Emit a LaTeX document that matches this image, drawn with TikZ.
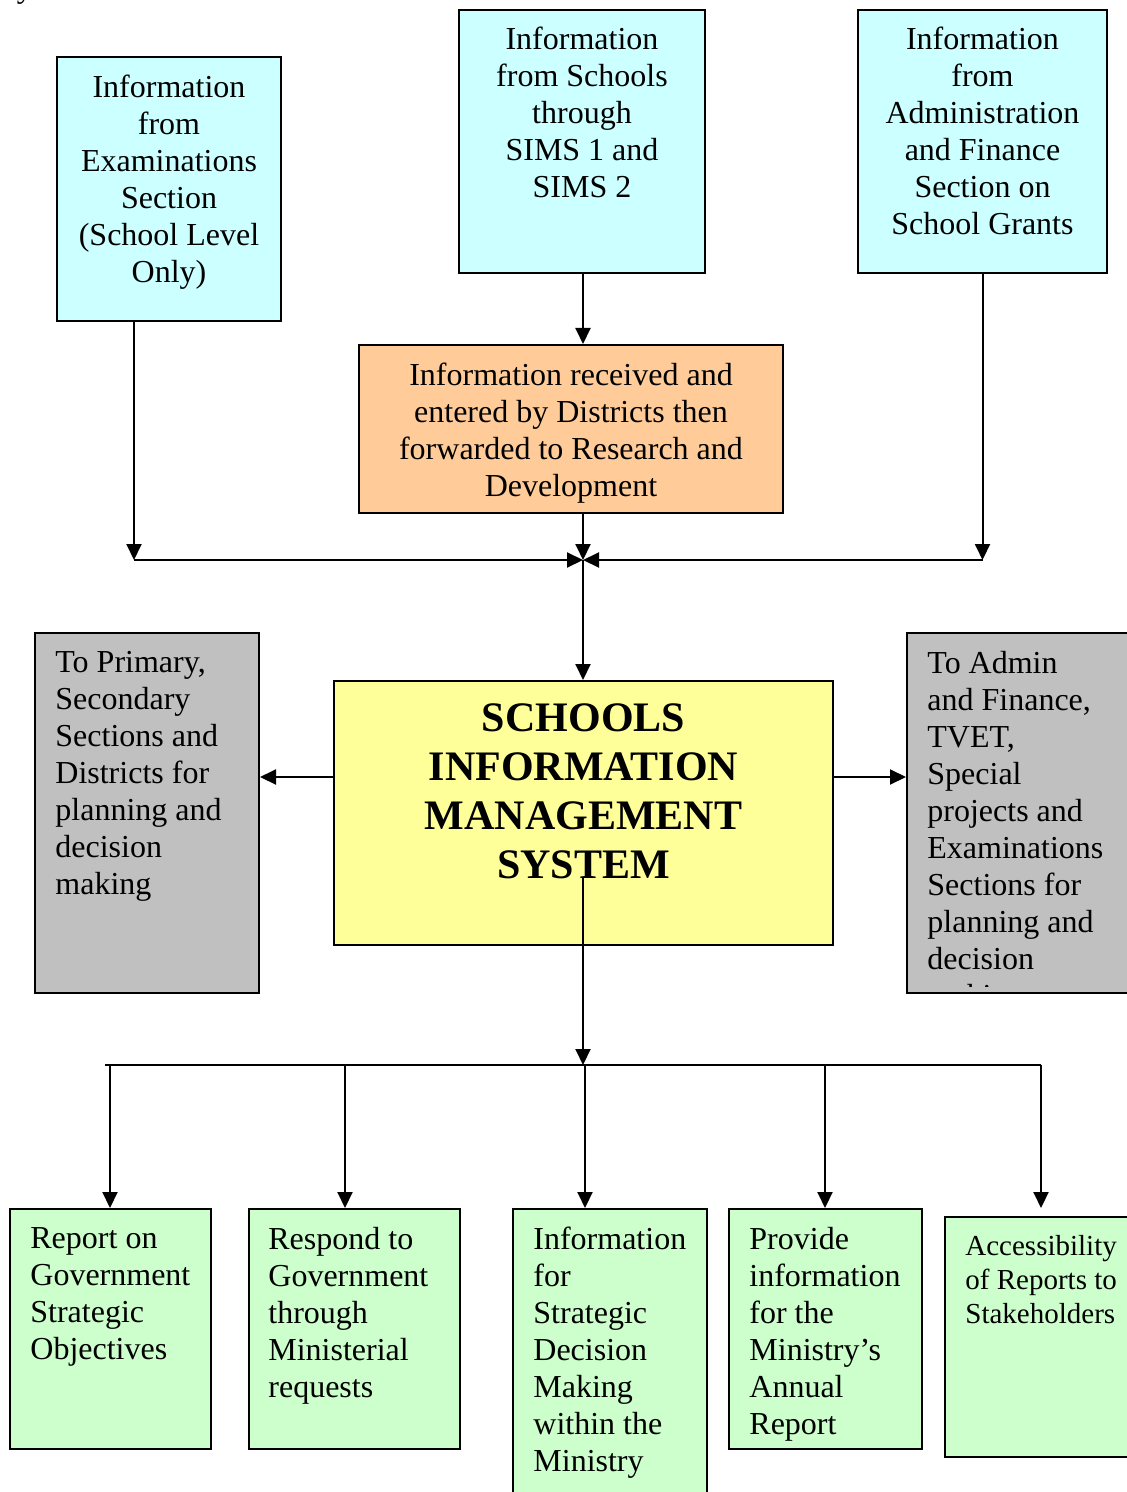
\documentclass[tikz,border=0pt]{standalone}
\usepackage{fontspec}
\setmainfont{Liberation Serif}
\usetikzlibrary{arrows.meta}
\definecolor{cyanfill}{HTML}{CCFFFF}
\definecolor{orangefill}{HTML}{FFCC99}
\definecolor{yellowfill}{HTML}{FFFF99}
\definecolor{grayfill}{HTML}{C0C0C0}
\definecolor{greenfill}{HTML}{CCFFCC}
\tikzset{
  box/.style={draw=black, line width=1pt, inner sep=0pt, rectangle},
  txt/.style={inner sep=0pt, font=\fontsize{16}{18.5}\selectfont},
  ctxt/.style={txt, align=center, anchor=north},
  ltxt/.style={txt, align=left, anchor=north west},
  conn/.style={line width=1pt},
  arr/.style={conn, -{Triangle[length=8pt,width=7.5pt]}}
}
\begin{document}
\begin{tikzpicture}[x=0.5pt,y=-0.5pt]
\useasboundingbox (0,0) rectangle (1127,1492);
% fragment of text cut off at the top
\node[txt, anchor=base west] (frag) at (4,-2) {system};
% top boxes
\node[box, fill=cyanfill, minimum width=112pt, minimum height=132pt] (exam) at (169,189) {};
\node[ctxt] (examt) at (169,75) {Information\\from\\Examinations\\Section\\(School Level\\Only)};
\node[box, fill=cyanfill, minimum width=123pt, minimum height=131.5pt] (sims) at (582,141.5) {};
\node[ctxt] (simst) at (582,27) {Information\\from Schools\\through\\SIMS 1 and\\SIMS 2};
\node[box, fill=cyanfill, minimum width=124.5pt, minimum height=131.5pt] (admin) at (982.5,141.5) {};
\node[ctxt] (admint) at (982.5,27) {Information\\from\\Administration\\and Finance\\Section on\\School Grants};
\node[box, fill=orangefill, minimum width=212pt, minimum height=84pt] (orange) at (571,429) {};
\node[ctxt] (oranget) at (571,363) {Information received and\\entered by Districts then\\forwarded to Research and\\Development};
% central box
\node[box, fill=yellowfill, minimum width=249.5pt, minimum height=132pt] (sims2) at (583.5,813) {};
\node[inner sep=0pt, align=center, anchor=north, font=\fontsize{21}{24.6}\selectfont\bfseries] (simst2) at (583.5,703) {SCHOOLS\\INFORMATION\\MANAGEMENT\\SYSTEM};
% side boxes
\node[box, fill=grayfill, minimum width=112pt, minimum height=180pt] (lgray) at (147,813) {};
\node[ltxt] (lgrayt) at (55,651) {To Primary,\\Secondary\\Sections and\\Districts for\\planning and\\decision\\making};
\node[box, fill=grayfill, minimum width=116.5pt, minimum height=180pt] (rgray) at (1023.5,813) {};
\begin{scope}
\clip (908,634) rectangle (1140,986);
\node[ltxt] (rgrayt) at (927,651) {To Admin\\and Finance,\\TVET,\\Special\\projects and\\Examinations\\Sections for\\planning and\\decision\\making};
\end{scope}
% bottom boxes
\node[box, fill=greenfill, minimum width=100.5pt, minimum height=120pt] (g1) at (110.5,1329) {};
\node[ltxt] (g1t) at (30,1227) {Report on\\Government\\Strategic\\Objectives};
\node[box, fill=greenfill, minimum width=105.5pt, minimum height=120pt] (g2) at (354.5,1329) {};
\node[ltxt] (g2t) at (268,1227) {Respond to\\Government\\through\\Ministerial\\requests};
\node[box, fill=greenfill, minimum width=97pt, minimum height=150.5pt] (g3) at (610,1359.5) {};
\node[ltxt] (g3t) at (533,1227) {Information\\for\\Strategic\\Decision\\Making\\within the\\Ministry};
\node[box, fill=greenfill, minimum width=96.5pt, minimum height=120pt] (g4) at (825.5,1329) {};
\node[ltxt] (g4t) at (749,1227) {Provide\\information\\for the\\Ministry’s\\Annual\\Report};
\node[box, fill=greenfill, minimum width=97.5pt, minimum height=120pt] (g5) at (1042.5,1337) {};
\node[inner sep=0pt, align=left, anchor=north west, font=\fontsize{14.5}{17}\selectfont] (g5t) at (965,1235) {Accessibility\\of Reports to\\Stakeholders};
% junction coordinates
\coordinate (jL) at (134,560);
\coordinate (jC) at (583,560);
\coordinate (jR) at (982.5,560);
\coordinate (ya) at (583,777);
\coordinate (ys) at (583,877);
\coordinate (jB) at (583,1065);
\coordinate (bL) at (105,1065);
\coordinate (bR) at (1041,1065);
\coordinate (b1) at (110,1065);
\coordinate (b2) at (345,1065);
\coordinate (b3) at (585,1065);
\coordinate (b4) at (825,1065);
\coordinate (b5) at (1041,1065);
\coordinate (g5top) at (1041,1208);
% top connectors
\draw[arr] (exam.south -| jL) -- (jL);
\draw[arr] (admin.south -| jR) -- (jR);
\draw[arr] (sims.south -| jC) -- (orange.north -| jC);
\draw[arr] (orange.south -| jC) -- (jC);
\draw[arr] (jL) -- (jC);
\draw[arr] (jR) -- (jC);
\draw[arr] (jC) -- (sims2.north -| jC);
% side connectors
\draw[arr] (sims2.west |- ya) -- (lgray.east |- ya);
\draw[arr] (sims2.east |- ya) -- (rgray.west |- ya);
% bottom connectors
\draw[arr] (ys) -- (jB);
\draw[conn] (bL) -- (bR);
\draw[arr] (b1) -- (g1.north -| b1);
\draw[arr] (b2) -- (g2.north -| b2);
\draw[arr] (b3) -- (g3.north -| b3);
\draw[arr] (b4) -- (g4.north -| b4);
\draw[arr] (b5) -- (g5top);
\end{tikzpicture}
\end{document}
